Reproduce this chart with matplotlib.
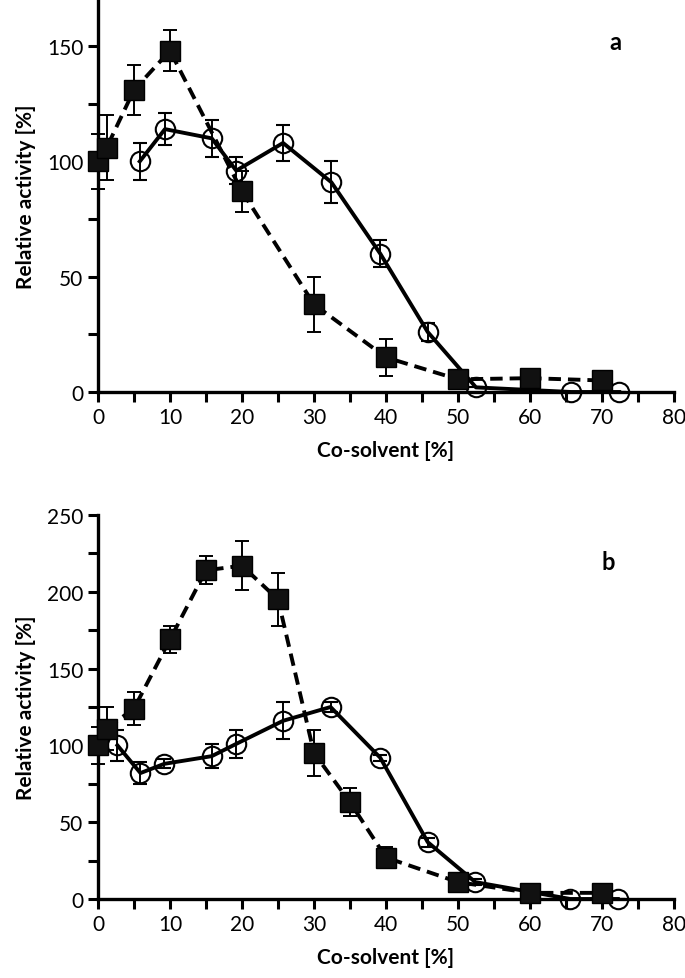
import matplotlib.pyplot as plt
import numpy as np

plt.rcParams['font.family'] = ['Lato', 'DejaVu Sans']

# panel a
a_sq_x = [0, 1.2, 5, 10, 20, 30, 40, 50, 60, 70]
a_sq_y = [100, 106, 131, 148, 87, 38, 15, 5.5, 6, 5]
a_sq_err = [12, 14, 11, 9, 9, 12, 8, 0, 0, 0]
a_ci_x = [5.8, 9.3, 15.8, 19.2, 25.7, 32.4, 39.2, 45.8, 52.5, 65.7, 72.4]
a_ci_y = [100, 114, 110, 96, 108, 91, 60, 26, 2, 0, 0]
a_ci_err = [8, 7, 8, 6, 8, 9, 6, 4, 0, 0, 0]

# panel b
b_sq_x = [0, 1.2, 5, 10, 15, 20, 25, 30, 35, 40, 50, 60, 70]
b_sq_y = [100, 111, 124, 169, 214, 217, 195, 95, 63, 27, 11, 4, 4]
b_sq_err = [12, 14, 11, 9, 9, 16, 17, 15, 9, 7, 0, 0, 0]
b_ci_x = [2.7, 5.9, 9.2, 15.8, 19.2, 25.7, 32.3, 39.2, 45.8, 52.4, 65.6, 72.2]
b_ci_y = [100, 82, 88, 93, 101, 116, 125, 92, 37, 11, 0, 0]
b_ci_err = [10, 7, 3, 8, 9, 12, 3, 2, 3, 2, 0, 0]

W, H = 685, 979
fig = plt.figure(figsize=(W / 100, H / 100), dpi=100)
ax_a = fig.add_axes([98 / W, 1 - 393 / H, 576 / W, 392 / H])
ax_b = fig.add_axes([98 / W, 1 - 900 / H, 576 / W, 384 / H])


def draw(ax, sx, sy, se, cx, cy, ce, ymax, letter, lx, ly):
    ax.errorbar(cx, cy, yerr=ce, fmt='o', ls='-', color='black', lw=2.8,
                ms=14, mfc='none', mec='black', mew=1.5, ecolor='black',
                elinewidth=1.4, capsize=5, capthick=1.4, zorder=3)
    ax.errorbar(sx, sy, yerr=se, fmt='s', ls='--', color='black', lw=2.8,
                ms=14, mfc='#111111', mec='black', ecolor='black', elinewidth=1.4,
                capsize=5, capthick=1.4, dashes=(3.2, 1.8), zorder=4)
    ax.set_xlim(0, 80)
    ax.set_ylim(0, ymax)
    ax.set_xticks(np.arange(0, 81, 10))
    ax.set_xticks(np.arange(0, 81, 5), minor=True)
    ax.set_yticks(np.arange(0, ymax + 1, 50))
    ax.set_yticks(np.arange(0, ymax + 1, 25), minor=True)
    for s in ['top', 'right']:
        ax.spines[s].set_visible(False)
    for s in ['left', 'bottom']:
        ax.spines[s].set_linewidth(2.4)
        ax.spines[s].set_zorder(2)
    ax.tick_params(which='both', direction='out', length=7, width=2.2, labelsize=15)
    ax.set_ylabel('Relative activity [%]', fontsize=15, fontweight='bold', labelpad=8)
    ax.set_xlabel('Co-solvent [%]', fontsize=15, fontweight='bold', labelpad=10)
    ax.text(lx, ly, letter, fontsize=17, fontweight='bold', ha='center', va='center')
    for art in ax.get_children():
        try:
            art.set_clip_on(False)
        except Exception:
            pass


draw(ax_a, a_sq_x, a_sq_y, a_sq_err, a_ci_x, a_ci_y, a_ci_err, 170, 'a', 71.8, 152)
draw(ax_b, b_sq_x, b_sq_y, b_sq_err, b_ci_x, b_ci_y, b_ci_err, 250, 'b', 70.8, 220)

fig.savefig('out.png', dpi=100)
